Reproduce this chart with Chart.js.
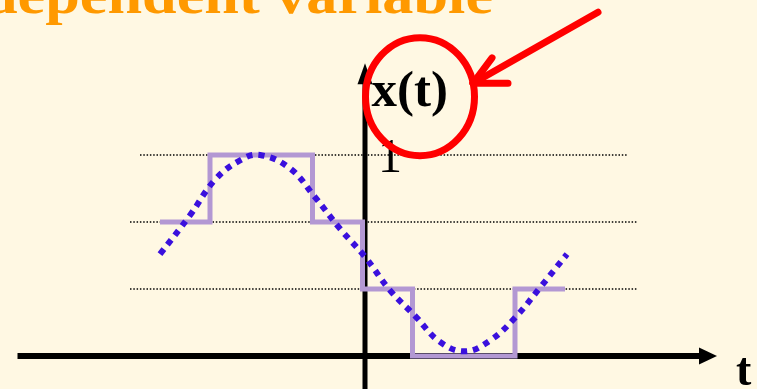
<!DOCTYPE html>
<html>
<head>
<meta charset="utf-8">
<title>Quantized signal x(t)</title>
<script src="https://cdn.jsdelivr.net/npm/chart.js@4.4.0/dist/chart.umd.min.js"></script>
<style>
  html, body { margin: 0; padding: 0; background: #FFF8E3; }
  #wrap { position: relative; width: 757px; height: 389px; }
</style>
</head>
<body>
<div id="wrap"><canvas id="signalChart" width="757" height="389"></canvas></div>
<script>
// Sample instants and the held (quantized) level at each one
const sampleTimes = [-4.1, -3.1, -2.05, -1.05, -0.05, 0.95, 2.0, 3.0, 4.0];
const quantizedLevels = [2, 3, 3, 2, 1, 0, 0, 1, 1];

// Continuous signal
const curveTimes = [-4.1, -3.5, -3, -2.5, -2.1, -1.5, -1, -0.5, 0, 0.5, 1, 1.5, 2, 2.5, 3, 3.5, 4.04];
const curveValues = [1.52, 2.1, 2.63, 2.92, 3.0, 2.8, 2.37, 1.9, 1.48, 0.98, 0.6, 0.21, 0.07, 0.23, 0.57, 1.02, 1.52];

// Dotted reference levels and how far each one runs
const refLevels = [3, 2, 1];
const refStart = [-4.5, -4.7, -4.7];
const refEnd = [5.26, 5.46, 5.46];

// Text on the figure
const titleText = 'dependent variable';
const signalLabel = 'x(t)';
const levelLabel = '1';
const timeLabel = 't';

const BG = '#FFF8E3';
const SERIF = '"Liberation Serif", "DejaVu Serif", serif';

const refDatasets = refLevels.map((lvl, i) => ({
    label: 'level ' + lvl,
    data: [{ x: refStart[i], y: lvl }, { x: refEnd[i], y: lvl }],
    borderColor: '#000',
    borderWidth: 1.5,
    borderDash: [1.5, 1.8],
    pointRadius: 0,
    order: 4
}));

const figurePlugin = {
    id: 'figure',
    beforeDraw(chart) {
        const c = chart.ctx;
        c.save();
        c.fillStyle = BG;
        c.fillRect(0, 0, chart.width, chart.height);
        c.restore();
    },
    beforeDatasetsDraw(chart) {
        const c = chart.ctx;
        const xs = chart.scales.x, ys = chart.scales.y;
        const x0 = xs.getPixelForValue(0);
        const y0 = ys.getPixelForValue(0);
        c.save();
        c.strokeStyle = '#000';
        c.fillStyle = '#000';
        c.lineWidth = 6;
        // horizontal axis + arrow
        const xEnd = xs.getPixelForValue(6.7);
        c.beginPath();
        c.moveTo(xs.getPixelForValue(-6.95), y0);
        c.lineTo(xEnd, y0);
        c.stroke();
        c.beginPath();
        c.moveTo(xEnd - 1, y0 - 8.5);
        c.lineTo(xs.getPixelForValue(7.04), y0);
        c.lineTo(xEnd - 1, y0 + 8.5);
        c.closePath();
        c.fill();
        // vertical axis + arrow
        c.lineWidth = 5;
        const yTop = ys.getPixelForValue(4.07);
        c.beginPath();
        c.moveTo(x0, chart.height + 2);
        c.lineTo(x0, yTop);
        c.stroke();
        c.beginPath();
        c.moveTo(x0 - 7.5, yTop + 1);
        c.lineTo(x0, ys.getPixelForValue(4.37));
        c.lineTo(x0 + 7.5, yTop + 1);
        c.closePath();
        c.fill();
        c.restore();
    },
    afterDraw(chart) {
        const c = chart.ctx;
        const xs = chart.scales.x, ys = chart.scales.y;
        c.save();
        // title, partly off the top-left edge
        c.fillStyle = '#FF9900';
        c.font = 'bold 54px ' + SERIF;
        c.textBaseline = 'alphabetic';
        const w = c.measureText(titleText).width;
        c.save();
        c.translate(-17, 13);
        c.scale(510 / w, 1);
        c.fillText(titleText, 0, 0);
        c.restore();

        // labels
        c.fillStyle = '#000';
        c.font = 'bold 51px ' + SERIF;
        c.fillText(signalLabel, xs.getPixelForValue(0.13), ys.getPixelForValue(3.73));
        c.font = '48px ' + SERIF;
        c.fillText(levelLabel, xs.getPixelForValue(0.26), ys.getPixelForValue(2.75));
        c.font = 'bold 46px ' + SERIF;
        c.fillText(timeLabel, xs.getPixelForValue(7.42), ys.getPixelForValue(-0.43));

        // red circle around x(t)
        c.strokeStyle = '#FF0000';
        c.lineWidth = 7;
        c.beginPath();
        c.ellipse(xs.getPixelForValue(1.1), ys.getPixelForValue(3.87), 54.5, 59, 0, 0, Math.PI * 2);
        c.stroke();

        // red pointer arrow
        c.lineCap = 'round';
        c.lineJoin = 'round';
        const tipX = xs.getPixelForValue(2.16), tipY = ys.getPixelForValue(4.07);
        c.beginPath();
        c.moveTo(xs.getPixelForValue(4.66), ys.getPixelForValue(5.13));
        c.lineTo(tipX, tipY);
        c.stroke();
        c.beginPath();
        c.moveTo(xs.getPixelForValue(2.54), ys.getPixelForValue(4.45));
        c.lineTo(tipX, tipY);
        c.lineTo(xs.getPixelForValue(2.86), tipY);
        c.stroke();
        c.restore();
    }
};

new Chart(document.getElementById('signalChart'), {
    type: 'line',
    data: {
        datasets: [
            {
                label: 'x(t)',
                data: curveTimes.map((t, i) => ({ x: t, y: curveValues[i] })),
                borderColor: '#3A10DD',
                borderWidth: 6,
                borderDash: [6, 6],
                borderCapStyle: 'butt',
                tension: 0.4,
                pointRadius: 0,
                order: 1
            },
            {
                label: 'quantized',
                data: sampleTimes.map((t, i) => ({ x: t, y: quantizedLevels[i] })),
                borderColor: '#B398D3',
                borderWidth: 5,
                stepped: 'before',
                pointRadius: 0,
                order: 2
            },
            ...refDatasets
        ]
    },
    options: {
        responsive: false,
        animation: false,
        layout: { padding: 0 },
        plugins: { legend: { display: false }, tooltip: { enabled: false } },
        scales: {
            x: { type: 'linear', min: -7.3, max: 7.84, display: false },
            y: { type: 'linear', min: -0.4925, max: 5.313, display: false }
        }
    },
    plugins: [figurePlugin]
});
</script>
</body>
</html>
